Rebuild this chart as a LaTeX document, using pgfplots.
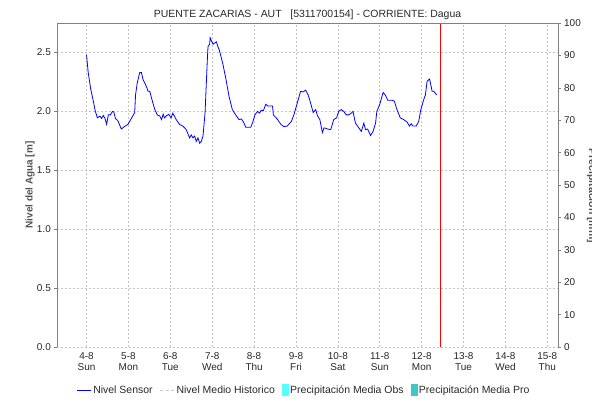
\documentclass[border=0pt]{standalone}
\usepackage{pgfplots}
\pgfplotsset{compat=1.18}
\usepackage{fontspec}
\setmainfont{Liberation Sans}
\definecolor{gridc}{RGB}{196,196,196}
\definecolor{axc}{RGB}{128,128,128}
\definecolor{txt}{RGB}{40,40,40}
\definecolor{obs}{RGB}{85,255,255}
\definecolor{pro}{RGB}{64,200,200}
\definecolor{hist}{RGB}{200,200,200}
\begin{document}
\begin{tikzpicture}
\useasboundingbox (-57bp,-55bp) rectangle (535bp,347bp);
\clip (-57bp,-55bp) rectangle (535bp,347bp);
\begin{axis}[
  scale only axis, width=501bp, height=324bp,
  xmin=3.295, xmax=15.255, ymin=0, ymax=2.75,
  axis line style={draw=none},
  xtick={4,...,15},
  xticklabels={{4-8\\Sun},{5-8\\Mon},{6-8\\Tue},{7-8\\Wed},{8-8\\Thu},{9-8\\Fri},{10-8\\Sat},{11-8\\Sun},{12-8\\Mon},{13-8\\Tue},{14-8\\Wed},{15-8\\Thu}},
  xticklabel style={align=center, font=\fontsize{10}{11.5}\selectfont, text=txt, inner sep=0pt},
  x tick label style={yshift=-2bp},
  ytick={0,0.5,...,2.5},
  yticklabel style={/pgf/number format/fixed, /pgf/number format/fixed zerofill, /pgf/number format/precision=1, /pgf/number format/assume math mode=true},
  y tick label style={font=\fontsize{10}{12}\selectfont, text=txt, inner sep=0pt, xshift=-3bp},
  xtick pos=bottom, ytick pos=left,
  tick align=outside,
  x tick style={draw=none},
  y tick style={axc, thin},
  major tick length=3bp,
  grid=major,
  grid style={gridc, dash pattern=on 2bp off 2bp, line width=0.6pt},
  title={PUENTE ZACARIAS - AUT \ \ [5311700154] - CORRIENTE: Dagua},
  title style={at={(axis description cs:0.5,1)}, anchor=base, yshift=0bp, font=\fontsize{10.5}{13}\selectfont, text=txt},
  ylabel={Nivel del Agua [m]},
  ylabel style={at={(axis description cs:0,0.5)}, anchor=center, yshift=27bp, font=\bfseries\fontsize{10}{12}\selectfont, text=txt!80},
  legend columns=4,
  legend style={at={(axis description cs:0.493,-0.133)}, anchor=center, draw=none, fill=none, font=\fontsize{10.5}{12}\selectfont, text=txt, /tikz/every even column/.append style={column sep=5bp}, inner sep=0pt},
  legend cell align=left,
  legend image code/.code={\draw[#1] (0bp,0bp) -- (14bp,0bp);},
]
\addplot[blue, line width=0.8pt] coordinates {
(4.00,2.48) (4.04,2.33) (4.10,2.19) (4.16,2.09) (4.21,2.00) (4.26,1.945) (4.32,1.96) (4.36,1.94)
(4.40,1.965) (4.44,1.94) (4.48,1.89) (4.52,1.97) (4.57,1.97) (4.62,2.00) (4.65,1.995) (4.69,1.94)
(4.75,1.92) (4.83,1.85) (4.90,1.87) (4.99,1.89) (5.07,1.94) (5.15,1.99) (5.17,2.14) (5.21,2.24)
(5.27,2.33) (5.31,2.33) (5.35,2.27) (5.43,2.21) (5.47,2.17) (5.51,2.17) (5.55,2.115) (5.63,2.015)
(5.69,1.97) (5.75,1.96) (5.79,1.93) (5.83,1.975) (5.86,1.945) (5.90,1.96) (5.96,1.975) (6.02,1.945)
(6.06,1.985) (6.14,1.93) (6.22,1.89) (6.30,1.875) (6.38,1.845) (6.46,1.775) (6.50,1.80) (6.54,1.775)
(6.58,1.79) (6.62,1.745) (6.66,1.775) (6.70,1.73) (6.74,1.745) (6.78,1.79) (6.83,1.99) (6.88,2.41)
(6.90,2.55) (6.94,2.57) (6.95,2.625) (6.98,2.60) (7.02,2.57) (7.06,2.58) (7.10,2.59) (7.13,2.555)
(7.17,2.52) (7.25,2.41) (7.33,2.27) (7.40,2.13) (7.48,2.015) (7.56,1.97) (7.64,1.93) (7.70,1.935)
(7.76,1.90) (7.80,1.865) (7.92,1.865) (7.96,1.90) (8.02,1.97) (8.08,2.00) (8.13,1.985) (8.17,2.01)
(8.22,2.005) (8.28,2.06) (8.33,2.045) (8.44,2.045) (8.46,1.97) (8.54,1.94) (8.64,1.89) (8.71,1.87)
(8.79,1.875) (8.89,1.915) (8.95,1.97) (9.03,2.07) (9.11,2.17) (9.17,2.165) (9.23,2.18) (9.29,2.14)
(9.35,2.07) (9.41,1.99) (9.47,2.015) (9.51,1.965) (9.57,1.93) (9.63,1.82) (9.67,1.86) (9.76,1.85)
(9.83,1.845) (9.90,1.93) (9.97,1.945) (10.02,2.00) (10.08,2.015) (10.14,2.00) (10.20,1.97) (10.26,1.97)
(10.32,1.985) (10.36,2.00) (10.42,1.90) (10.50,1.86) (10.56,1.83) (10.62,1.90) (10.66,1.845) (10.71,1.85)
(10.78,1.795) (10.84,1.83) (10.90,1.90) (10.93,2.00) (11.00,2.06) (11.08,2.16) (11.13,2.14) (11.19,2.095)
(11.29,2.095) (11.35,2.085) (11.41,2.015) (11.49,1.945) (11.57,1.93) (11.65,1.91) (11.71,1.875) (11.75,1.895)
(11.79,1.875) (11.87,1.875) (11.93,1.915) (11.98,2.015) (12.05,2.10) (12.09,2.14) (12.13,2.255) (12.19,2.275)
(12.25,2.17) (12.29,2.17) (12.36,2.14)
};
\addlegendentry{Nivel Sensor}
\addlegendimage{legend image code/.code={\draw[draw=hist, line width=1pt, dash pattern=on 3bp off 2.5bp] (0bp,0bp) -- (14bp,0bp);}}
\addlegendentry{Nivel Medio Historico}
\addlegendimage{legend image code/.code={\fill[obs] (0bp,-5.5bp) rectangle (6bp,5.5bp);}}
\addlegendentry{Precipitación Media Obs}
\addlegendimage{legend image code/.code={\fill[pro] (0bp,-5.5bp) rectangle (6bp,5.5bp);}}
\addlegendentry{Precipitación Media Pro}
\addplot[red, line width=0.8pt, forget plot] coordinates {(12.44,0) (12.44,2.75)};
\draw[axc, thin] (rel axis cs:0,0) -- (rel axis cs:0,1) -- (rel axis cs:1,1) -- (rel axis cs:1,0);
\draw[black!80, dotted, line width=0.8pt] (rel axis cs:0,0) -- (rel axis cs:1,0);
\end{axis}
\begin{axis}[
  scale only axis, width=501bp, height=324bp,
  xmin=3.295, xmax=15.255, ymin=0, ymax=100,
  axis x line=none, axis y line*=right,
  axis line style={axc, thin, -},
  ytick={0,10,...,100},
  y tick label style={font=\fontsize{10}{12}\selectfont, text=txt, inner sep=0pt, xshift=3bp},
  yticklabel style={/pgf/number format/assume math mode=true},
  tick align=outside,
  y tick style={axc, thin},
  major tick length=3bp,
]
\addplot[draw=none, forget plot] coordinates {(4,0) (15,0)};
\end{axis}
\node[rotate=-90, anchor=base, font=\bfseries\fontsize{10.5}{12}\selectfont, text=txt!80] at (532bp,151bp) {Precipitación [mm]};
\end{tikzpicture}
\end{document}
